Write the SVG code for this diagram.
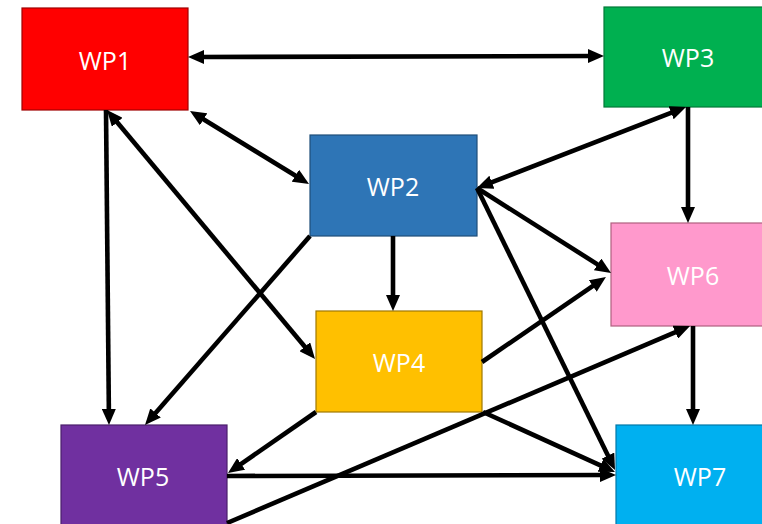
<svg xmlns="http://www.w3.org/2000/svg" width="762" height="524" viewBox="0 0 762 524">
<style>
.node rect{stroke-width:1.2}
.node text{font-family:"Open Sans","Liberation Sans",sans-serif;font-size:25px;fill:#ffffff;text-anchor:middle;dominant-baseline:central}
#connectors path{stroke:#000;stroke-width:4.6;fill:none;marker-end:url(#ah)}
#connectors path.both{marker-start:url(#ah)}
</style>
<defs>
<marker id="ah" markerUnits="userSpaceOnUse" markerWidth="16" markerHeight="14" refX="6" refY="7" orient="auto-start-reverse" viewBox="0 0 16 14">
<path d="M0,0 L16,7 L0,14 z" fill="#000"/>
</marker>
</defs>
<rect width="762" height="524" fill="#fff"/>
<g id="WP1" class="node"><rect x="22" y="8" width="166" height="102" fill="#ff0000" stroke="#a00000"/><text x="105" y="60">WP1</text></g>
<g id="WP2" class="node"><rect x="310" y="135" width="167" height="101" fill="#2e75b6" stroke="#1f4e79"/><text x="393" y="186">WP2</text></g>
<g id="WP3" class="node"><rect x="604" y="7" width="168" height="100" fill="#00b050" stroke="#007a38"/><text x="688" y="57">WP3</text></g>
<g id="WP4" class="node"><rect x="316" y="311" width="166" height="101" fill="#ffc000" stroke="#a07800"/><text x="399" y="362">WP4</text></g>
<g id="WP5" class="node"><rect x="61" y="425" width="166" height="101" fill="#7030a0" stroke="#4a1f6b"/><text x="143" y="476">WP5</text></g>
<g id="WP6" class="node"><rect x="611" y="223" width="166" height="103" fill="#ff99cc" stroke="#b0607f"/><text x="693" y="275">WP6</text></g>
<g id="WP7" class="node"><rect x="616" y="425" width="168" height="101" fill="#00b0f0" stroke="#0078a8"/><text x="700" y="476">WP7</text></g>
<g id="connectors">
<path class="both" d="M198,57 L594,56"/>
<path class="both" d="M198.5,116.2 L300.5,178.8"/>
<path d="M106,110 L108.9,415"/>
<path class="both" d="M113.4,117.7 L308.6,351.3"/>
<path d="M310,236 L151.6,417.5"/>
<path d="M393,236 L393,301"/>
<path class="both" d="M676.7,110.6 L486.3,184.4"/>
<path d="M688,107 L688,213"/>
<path d="M477,188 L602.6,267.6"/>
<path d="M477,188 L610.6,461"/>
<path d="M482,362 L597.7,282.7"/>
<path d="M227,523 L680.8,329.9"/>
<path d="M316,412 L236.2,467.3"/>
<path d="M227,476 L606,475"/>
<path d="M483,412 L605.9,467.9"/>
<path d="M693,326 L693,415"/>
</g>
</svg>
